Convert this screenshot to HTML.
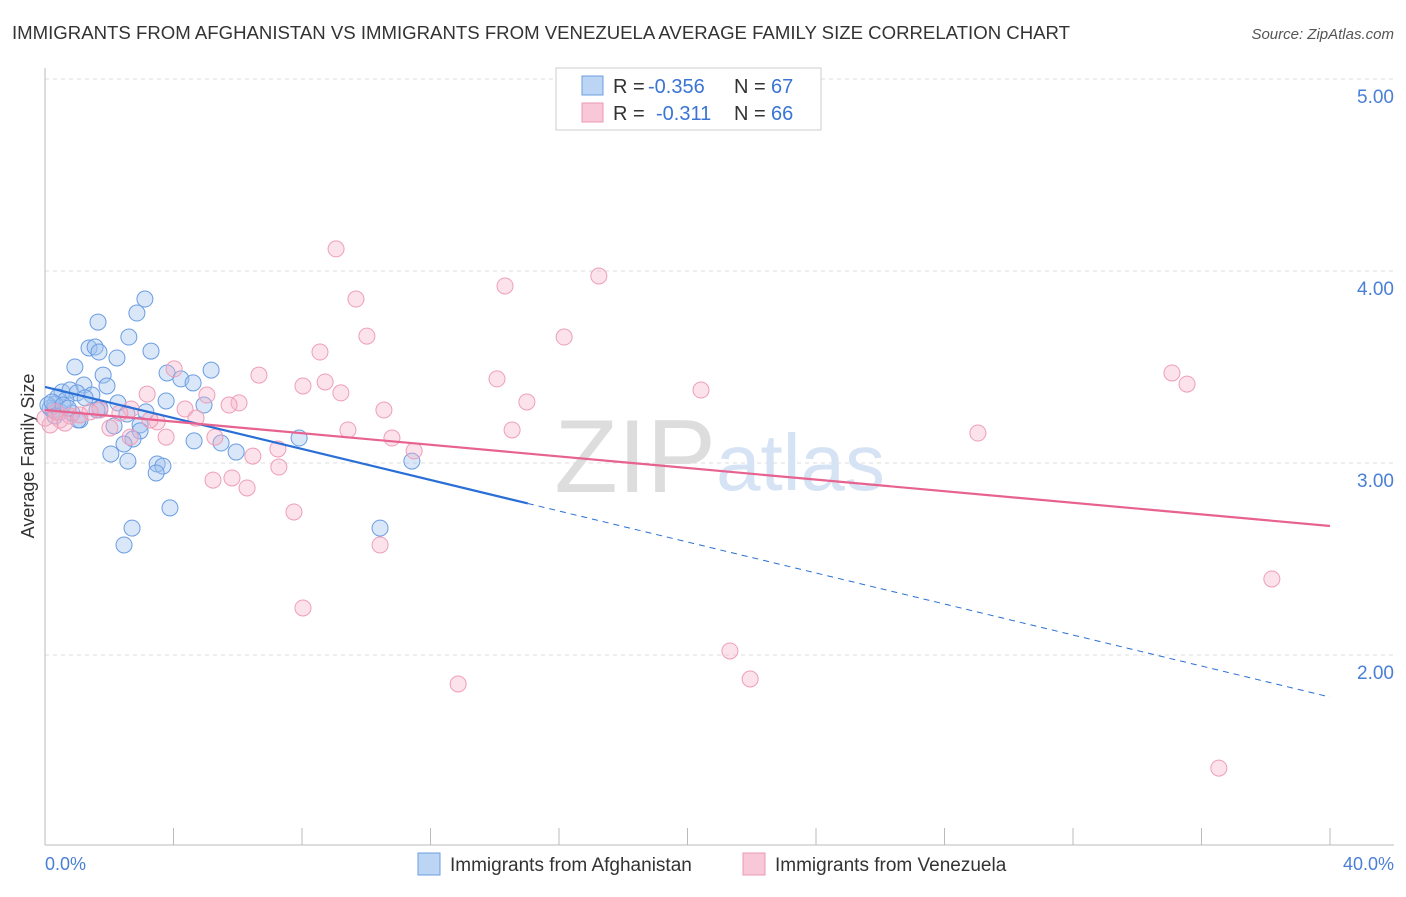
<!DOCTYPE html>
<html><head><meta charset="utf-8"><style>
body{margin:0;background:#fff;font-family:"Liberation Sans",sans-serif}
svg text{font-family:"Liberation Sans",sans-serif}
</style></head><body>
<svg width="1406" height="892" viewBox="0 0 1406 892">
<text x="12" y="39" font-size="18" fill="#333" textLength="1058" lengthAdjust="spacingAndGlyphs">IMMIGRANTS FROM AFGHANISTAN VS IMMIGRANTS FROM VENEZUELA AVERAGE FAMILY SIZE CORRELATION CHART</text>
<text x="1394" y="39" font-size="15" fill="#555" font-style="italic" text-anchor="end">Source: ZipAtlas.com</text>
<g id="grid"></g>
<text x="716" y="492" font-size="104" fill="#ddd" text-anchor="end" font-family="Liberation Serif">ZIP</text>
<text x="716" y="490" font-size="80" fill="#d5e3f5">atlas</text>
<line x1="45" y1="68" x2="45" y2="845" stroke="#bbb"/>
<line x1="45" y1="845" x2="1394" y2="845" stroke="#bbb"/>
<text transform="translate(34,456) rotate(-90)" font-size="18" fill="#333" text-anchor="middle">Average Family Size</text>
<text x="45" y="870" font-size="18" fill="#4a7fd6">0.0%</text>
<text x="1394" y="870" font-size="18" fill="#4a7fd6" text-anchor="end">40.0%</text>
<g id="marks"></g>
<g id="lines"></g>
<g>
<rect x="556" y="68" width="265" height="62" fill="#fff" stroke="#ccc"/>
<rect x="582" y="76" width="21" height="19" fill="#bcd5f5" stroke="#6d9fe3"/>
<rect x="582" y="103" width="21" height="19" fill="#f9c8d8" stroke="#ec98b4"/>
<text x="613" y="93" font-size="20" fill="#333">R =</text>
<text x="648" y="93" font-size="20" fill="#3a74d4">-0.356</text>
<text x="734" y="93" font-size="20" fill="#333">N =</text>
<text x="771" y="93" font-size="20" fill="#3a74d4">67</text>
<text x="613" y="120" font-size="20" fill="#333">R =</text>
<text x="656" y="120" font-size="20" fill="#3a74d4">-0.311</text>
<text x="734" y="120" font-size="20" fill="#333">N =</text>
<text x="771" y="120" font-size="20" fill="#3a74d4">66</text>
</g>
<g>
<rect x="418" y="853" width="22" height="22" fill="#bcd5f5" stroke="#6d9fe3"/>
<text x="450" y="871" font-size="19" fill="#333">Immigrants from Afghanistan</text></g>
<g>
<rect x="743" y="853" width="22" height="22" fill="#f9c8d8" stroke="#ec98b4"/>
<text x="775" y="871" font-size="19" fill="#333">Immigrants from Venezuela</text></g>
</svg>
<script>
const yTicks=[2,3,4,5];
const yTickLabels=["2.00","3.00","4.00","5.00"];
const xTicks=[0,4,8,12,16,20,24,28,32,36,40];
const blueX=[3.11,2.86,1.65,2.61,1.37,1.56,1.68,2.24,3.30,0.93,5.17,3.80,1.81,4.23,4.61,1.21,1.93,0.53,0.78,1.00,1.46,0.40,0.65,0.31,3.77,2.27,4.95,3.14,0.16,0.25,1.71,2.55,0.47,0.84,1.09,2.15,2.96,2.96,2.74,7.91,2.46,4.64,5.48,5.95,2.05,2.58,3.49,3.67,3.46,11.42,3.89,2.71,10.43,2.46,0.09,0.22,0.56,0.72,0.31,1.25,1.62,1.03];
const blueY=[3.854,3.781,3.734,3.656,3.599,3.604,3.578,3.547,3.583,3.500,3.484,3.469,3.458,3.438,3.417,3.406,3.401,3.370,3.380,3.365,3.354,3.344,3.328,3.307,3.323,3.313,3.302,3.266,3.286,3.276,3.286,3.255,3.266,3.260,3.224,3.193,3.198,3.167,3.125,3.130,3.099,3.115,3.104,3.057,3.047,3.010,2.995,2.984,2.948,3.010,2.766,2.661,2.661,2.573,3.302,3.318,3.302,3.286,3.245,3.339,3.276,3.224];
const pinkX=[9.06,17.24,14.32,9.68,10.02,16.16,8.56,4.02,6.66,35.08,35.55,14.07,8.72,8.03,3.18,9.21,20.42,15.00,5.04,6.04,10.55,5.73,4.36,2.68,2.33,1.71,3.49,1.40,0.78,0.47,0.16,4.70,9.43,14.54,10.80,29.04,3.77,5.29,2.65,11.49,7.25,6.47,7.28,5.82,5.23,6.29,7.75,10.43,38.19,8.03,21.32,12.86,21.95,36.54,0.34,0.62,1.09,2.02,3.27,0.0];
const pinkY=[4.115,3.974,3.922,3.854,3.661,3.656,3.578,3.490,3.458,3.469,3.411,3.438,3.422,3.401,3.359,3.365,3.380,3.318,3.354,3.313,3.276,3.302,3.281,3.281,3.260,3.276,3.214,3.266,3.245,3.224,3.198,3.234,3.172,3.172,3.130,3.156,3.135,3.135,3.135,3.063,3.073,3.036,2.979,2.922,2.911,2.870,2.745,2.573,2.396,2.245,2.021,1.849,1.875,1.411,3.266,3.208,3.250,3.182,3.224,3.234];
const blueTrend=[3.396,1.781];
const blueSolidEnd=15.03;
const pinkTrend=[3.276,2.672];
const NS="http://www.w3.org/2000/svg";
const sx=v=>45+v/40*1285;
const sy=v=>79+(5-v)*192;
function mk(tag,attrs,parent){const e=document.createElementNS(NS,tag);for(const k in attrs)e.setAttribute(k,attrs[k]);document.getElementById(parent).appendChild(e);return e;}
yTicks.forEach((t,i)=>{
 const l=mk('line',{x1:45,x2:1394,y1:sy(t),y2:sy(t),stroke:'#ddd','stroke-dasharray':'4,4'},'grid');
 
 
 const tx=mk('text',{x:1394,y:sy(t)+24,'font-size':19,fill:'#4a7fd6','text-anchor':'end'},'grid');
 tx.textContent=yTickLabels[i];
 
 
});
xTicks.forEach(t=>{
 const l=mk('line',{x1:sx(t),x2:sx(t),y1:828,y2:845,stroke:'#bbb'},'grid');
 
 
});
blueX.forEach((x,i)=>{
 const c=mk('circle',{cx:sx(x),cy:sy(blueY[i]),r:8,fill:'rgba(160,196,240,0.4)',stroke:'#6a9de2','stroke-width':1},'marks');
 
 
});
pinkX.forEach((x,i)=>{
 const c=mk('circle',{cx:sx(x),cy:sy(pinkY[i]),r:8,fill:'rgba(246,175,198,0.35)',stroke:'#ee9eb9','stroke-width':1},'marks');
 
 
});
const by=x=>blueTrend[0]+(blueTrend[1]-blueTrend[0])*x/40;
let l1=mk('line',{x1:sx(0),y1:sy(by(0)),x2:sx(blueSolidEnd),y2:sy(by(blueSolidEnd)),stroke:'#2a6fd6','stroke-width':2.2},'lines');


let l2=mk('line',{x1:sx(blueSolidEnd),y1:sy(by(blueSolidEnd)),x2:sx(40),y2:sy(by(40)),stroke:'#2a6fd6','stroke-width':1,'stroke-dasharray':'6,5'},'lines');


let l3=mk('line',{x1:sx(0),y1:sy(pinkTrend[0]),x2:sx(40),y2:sy(pinkTrend[1]),stroke:'#e8628f','stroke-width':2.2},'lines');


</script>
</body></html>
